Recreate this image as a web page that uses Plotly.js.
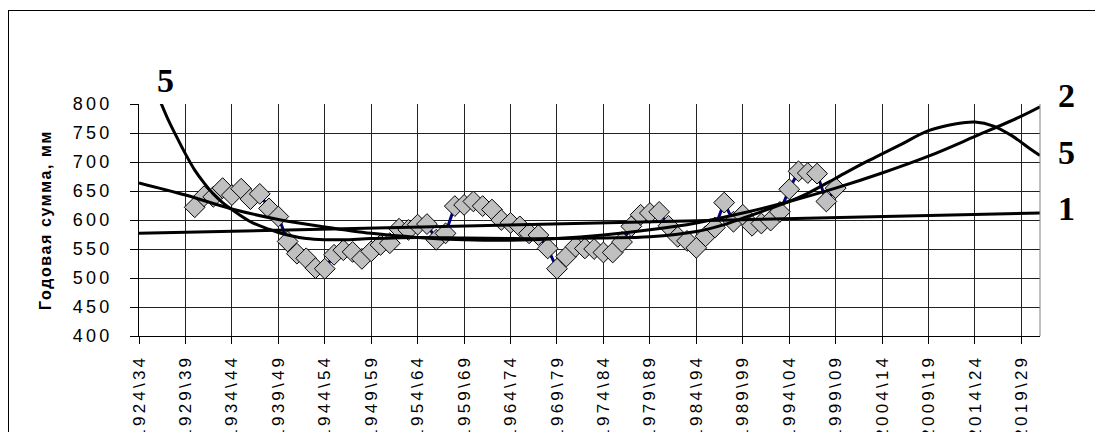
<!DOCTYPE html>
<html>
<head>
<meta charset="utf-8">
<script src="https://cdn.plot.ly/plotly-3.0.1.min.js"></script>
<style>
  html, body { margin: 0; padding: 0; background: #ffffff; }
  #frame { position: absolute; left: 8px; top: 10px; width: 1200px; height: 500px;
           border-left: 1px solid #000; border-top: 1px solid #000; }
  #chart { position: absolute; left: 0; top: 0; width: 1095px; height: 432px; }
  .xtick text, .ytick text { letter-spacing: 3.2px; }
  .g-ytitle text { letter-spacing: 1.6px; }
</style>
</head>
<body>
<div id="frame"></div>
<div id="chart"></div>
<script>
// Category labels (10-year windows), 1924\34 ... 2021\31
const categories = [
  "1924\\34","1925\\35","1926\\36","1927\\37","1928\\38","1929\\39","1930\\40","1931\\41","1932\\42","1933\\43",
  "1934\\44","1935\\45","1936\\46","1937\\47","1938\\48","1939\\49","1940\\50","1941\\51","1942\\52","1943\\53",
  "1944\\54","1945\\55","1946\\56","1947\\57","1948\\58","1949\\59","1950\\60","1951\\61","1952\\62","1953\\63",
  "1954\\64","1955\\65","1956\\66","1957\\67","1958\\68","1959\\69","1960\\70","1961\\71","1962\\72","1963\\73",
  "1964\\74","1965\\75","1966\\76","1967\\77","1968\\78","1969\\79","1970\\80","1971\\81","1972\\82","1973\\83",
  "1974\\84","1975\\85","1976\\86","1977\\87","1978\\88","1979\\89","1980\\90","1981\\91","1982\\92","1983\\93",
  "1984\\94","1985\\95","1986\\96","1987\\97","1988\\98","1989\\99","1990\\00","1991\\01","1992\\02","1993\\03",
  "1994\\04","1995\\05","1996\\06","1997\\07","1998\\08","1999\\09","2000\\10","2001\\11","2002\\12","2003\\13",
  "2004\\14","2005\\15","2006\\16","2007\\17","2008\\18","2009\\19","2010\\20","2011\\21","2012\\22","2013\\23",
  "2014\\24","2015\\25","2016\\26","2017\\27","2018\\28","2019\\29","2020\\30","2021\\31"
];

// Tick labels shown on the x axis
const tickLabels = [
  "1924\\34","1929\\39","1934\\44","1939\\49","1944\\54","1949\\59","1954\\64","1959\\69","1964\\74","1969\\79",
  "1974\\84","1979\\89","1984\\94","1989\\99","1994\\04","1999\\09","2004\\14","2009\\19","2014\\24","2019\\29"
];

// Observed sliding 10-year annual sums, 1930\40 ... 1999\09
const dataCats = categories.slice(6, 76);
const annualSum = [
  622, 641, 640, 655, 643, 654, 636, 645, 620, 606,
  563, 542, 534, 517, 516, 540, 548, 545, 533, 546,
  557, 560, 585, 583, 592, 593, 566, 577, 624, 626,
  632, 624, 618, 600, 595, 589, 577, 574, 551, 516,
  537, 554, 551, 550, 544, 544, 562, 589, 609, 612,
  614, 590, 571, 564, 552, 572, 587, 630, 597, 609,
  590, 594, 599, 614, 653, 684, 681, 680, 632, 655
];

// Trend line 1 (linear)
const trend1Cats = ["1924\\34", "1974\\84", "2021\\31"];
const trend1Vals = [577, 595, 612];

// Trend line 2 (2nd order)
const trend2Cats = ["1924\\34","1929\\39","1934\\44","1939\\49","1944\\54","1949\\59","1954\\64","1959\\69",
  "1964\\74","1969\\79","1974\\84","1979\\89","1984\\94","1989\\99","1994\\04","1999\\09","2004\\14",
  "2009\\19","2014\\24","2019\\29","2021\\31"];
const trend2Vals = [664, 643, 619, 601, 588, 577, 570, 566, 565, 568, 574, 583, 595, 612, 632, 655, 681,
  710, 744, 779, 795];

// Trend line 5 (higher order)
const trend5Cats = ["1926\\36","1927\\37","1928\\38","1929\\39","1930\\40","1931\\41","1932\\42","1933\\43",
  "1934\\44","1936\\46","1938\\48","1940\\50","1942\\52","1944\\54","1946\\56","1949\\59","1954\\64",
  "1959\\69","1964\\74","1969\\79","1974\\84","1979\\89","1984\\94","1987\\97","1989\\99","1992\\02",
  "1994\\04","1996\\06","1999\\09","2002\\12","2004\\14","2006\\16","2009\\19","2012\\22","2014\\24",
  "2016\\26","2018\\28","2020\\30","2021\\31"];
const trend5Vals = [816, 778, 745, 714, 686, 664, 645, 630, 618, 597, 584, 574, 568, 566, 566, 568, 570,
  569, 568, 568, 569, 571, 580, 592, 603, 620, 632, 646, 672, 698, 714, 730, 754, 766, 769, 762, 745,
  722, 711];

const curveLabels = [
  {text: "5", x: 165, y: 80},
  {text: "2", x: 1066, y: 95},
  {text: "5", x: 1066, y: 152},
  {text: "1", x: 1066, y: 208}
];

const W = 1095, H = 432;
const L = 139, R = 55, T = 104, B = 96;
const pw = W - L - R, ph = H - T - B;

const traces = [
  {
    x: dataCats, y: annualSum, type: "scatter", mode: "lines+markers",
    line: {color: "#000080", width: 3},
    marker: {symbol: "diamond", size: 16, color: "#c0c0c0", line: {color: "#000", width: 1}},
    hoverinfo: "x+y", showlegend: false
  },
  {
    x: trend1Cats, y: trend1Vals, type: "scatter", mode: "lines",
    line: {color: "#000", width: 3}, showlegend: false
  },
  {
    x: trend2Cats, y: trend2Vals, type: "scatter", mode: "lines",
    line: {color: "#000", width: 3, shape: "spline", smoothing: 1}, showlegend: false
  },
  {
    x: trend5Cats, y: trend5Vals, type: "scatter", mode: "lines",
    line: {color: "#000", width: 3, shape: "spline", smoothing: 1}, showlegend: false
  }
];

const layout = {
  width: W, height: H,
  margin: {l: L, r: R, t: T, b: B, pad: 0},
  paper_bgcolor: "rgba(0,0,0,0)",
  plot_bgcolor: "rgba(0,0,0,0)",
  showlegend: false,
  font: {family: "Liberation Sans, Arial, sans-serif", color: "#000"},
  xaxis: {
    type: "category",
    categoryorder: "array",
    categoryarray: categories,
    range: [0, categories.length - 1],
    tickmode: "array",
    tickvals: tickLabels,
    ticktext: tickLabels,
    tickangle: -90,
    ticks: "outside", ticklen: 7, tickcolor: "#000", tickwidth: 1,
    ticklabelstandoff: 4,
    tickfont: {size: 17, family: "Liberation Sans, Arial, sans-serif", color: "#000"},
    showgrid: true, gridcolor: "#222", gridwidth: 1,
    showline: true, linecolor: "#000", linewidth: 1,
    zeroline: false, fixedrange: true
  },
  yaxis: {
    range: [400, 800],
    dtick: 50, tick0: 400,
    ticks: "outside", ticklen: 8, tickcolor: "#000", tickwidth: 1,
    ticklabelstandoff: 14,
    tickfont: {size: 18, family: "Liberation Sans, Arial, sans-serif", color: "#000"},
    showgrid: true, gridcolor: "#222", gridwidth: 1,
    showline: true, linecolor: "#000", linewidth: 1,
    zeroline: false, fixedrange: true,
    title: {
      text: "Годовая сумма, мм",
      font: {size: 16, family: "Liberation Sans, Arial, sans-serif", weight: "bold", color: "#000"},
      standoff: 17
    }
  },
  shapes: [
    {type: "line", xref: "paper", yref: "paper", x0: 1, x1: 1, y0: 0, y1: 1,
     line: {color: "#808080", width: 1}}
  ],
  annotations: curveLabels.map(c => ({
    text: c.text, xref: "paper", yref: "paper",
    x: (c.x - L) / pw, y: (H - B - c.y) / ph,
    xanchor: "center", yanchor: "middle", showarrow: false,
    font: {family: "Liberation Serif, Times New Roman, serif", size: 34, weight: "bold", color: "#000"}
  }))
};

Plotly.newPlot("chart", traces, layout, {staticPlot: true, displayModeBar: false});
</script>
</body>
</html>
